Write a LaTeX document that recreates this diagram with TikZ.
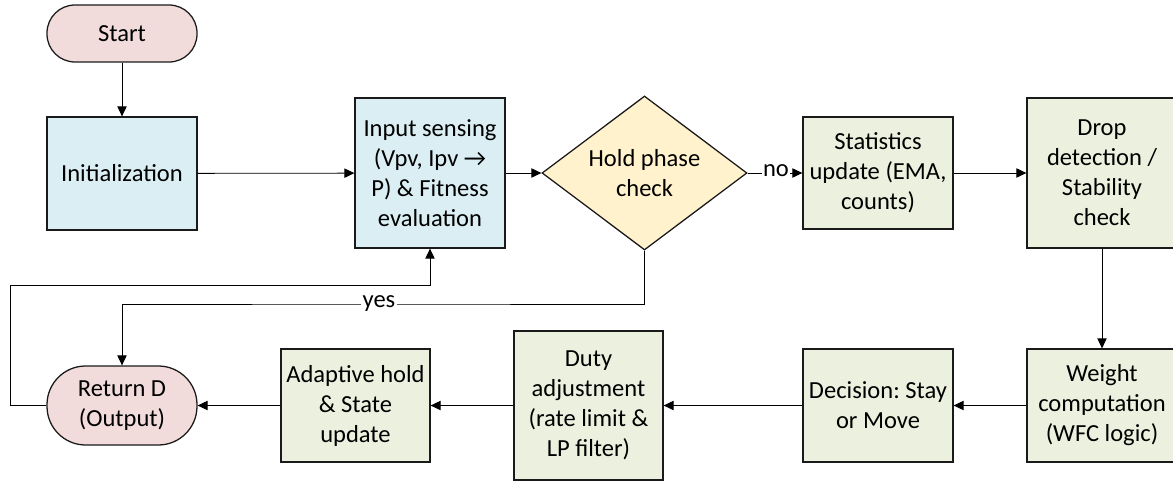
\documentclass[tikz,border=0pt]{standalone}
\usepackage{fontspec}
\setmainfont{Carlito}
\usetikzlibrary{shapes.geometric,arrows.meta}
\frenchspacing

\definecolor{termfill}{HTML}{F2DCDB}
\definecolor{iofill}{HTML}{DAEEF3}
\definecolor{decfill}{HTML}{FFF2CC}
\definecolor{procfill}{HTML}{EBF1DE}
\definecolor{edge}{HTML}{1A1A1A}

\tikzset{
  base/.style={draw=edge, line width=0.95pt, align=center, inner sep=0pt,
    font=\fontsize{18.4}{22.5}\selectfont},
  terminal/.style={base, fill=termfill, rounded corners=21pt,
    minimum width=112.5pt},
  iobox/.style={base, fill=iofill, minimum width=112.5pt},
  procbox/.style={base, fill=procfill, minimum width=112.5pt},
  decision/.style={base, diamond, fill=decfill, aspect=1.33,
    minimum width=153.75pt, minimum height=115.5pt},
  arr/.style={draw=black, line width=0.6pt, -{Triangle[length=7.5pt,width=7pt]}},
  lbl/.style={fill=white, inner sep=1pt, anchor=mid,
    font=\fontsize{18.4}{22.5}\selectfont}
}

\begin{document}
\begin{tikzpicture}[x=0.75pt, y=-0.75pt]
  \useasboundingbox (0,0) rectangle (1173,481);
  \clip (0,0) rectangle (1173,481);

  % top row
  \node[terminal, minimum height=42.75pt] (start) at (122,33.5) {Start};
  \node[iobox, minimum height=84.75pt] (init) at (122,173.5) {Initialization};
  \node[iobox, minimum height=112.5pt] (input) at (430,173)
    {Input sensing\\(Vpv, Ipv →\\P) \& Fitness\\evaluation};
  \node[decision] (hold) at (644.5,173) {Hold phase\\check};
  \node[procbox, minimum height=84pt] (stats) at (878,173)
    {Statistics\\update (EMA,\\counts)};
  \node[procbox, minimum height=112.5pt] (drop) at (1102,173)
    {Drop\\detection /\\Stability\\check};

  % bottom row
  \node[procbox, minimum height=84.75pt] (weight) at (1102,405.5)
    {Weight\\computation\\(WFC logic)};
  \node[procbox, minimum height=84.75pt] (decide) at (878,405.5)
    {Decision: Stay\\or Move};
  \node[procbox, minimum width=111.75pt, minimum height=111.75pt] (duty) at (588.5,405.5)
    {Duty\\adjustment\\(rate limit \&\\LP filter)};
  \node[procbox, minimum width=111.75pt, minimum height=84.75pt] (adapt) at (355.5,405.5)
    {Adaptive hold\\\& State\\update};
  \node[terminal, minimum height=59.25pt, rounded corners=29pt] (ret) at (122,405.5)
    {Return D\\(Output)};

  % loop corner points
  \coordinate (loopc) at (10,285);
  \coordinate (yesc) at (379,304);

  % main flow
  \draw[arr] (start) -- (init);
  \draw[arr] (init) -- (input);
  \draw[arr] (input) -- (hold);
  \draw[arr] (hold.east) -- (stats.west);
  \draw[arr] (stats) -- (drop);
  \draw[arr] (drop) -- (weight);
  \draw[arr] (weight) -- (decide);
  \draw[arr] (decide) -- (duty);
  \draw[arr] (duty) -- (adapt);
  \draw[arr] (adapt) -- (ret);

  % hold branch and feedback loop
  \draw[arr] (hold.south) |- (yesc) -| (ret.north);
  \draw[arr] (ret.west) -| (loopc) -| (input.south);

  % branch labels
  \node[lbl] (nolbl) at (776,173) {no};
  \node[lbl] (yeslbl) at (yesc) {yes};
\end{tikzpicture}
\end{document}
